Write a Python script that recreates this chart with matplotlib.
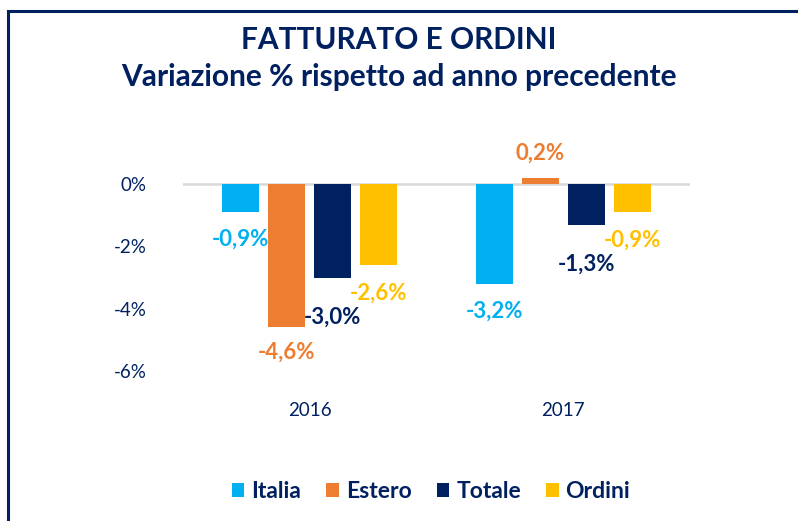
import matplotlib
matplotlib.use("Agg")
import matplotlib.pyplot as plt
import matplotlib.patches as mpatches
import numpy as np

years = ["2016", "2017"]
series = ["Italia", "Estero", "Totale", "Ordini"]
italia = [-0.9, -3.2]
estero = [-4.6, 0.2]
totale = [-3.0, -1.3]
ordini = [-2.6, -0.9]
yticks = [0, -2, -4, -6]

colors = ["#00B0F0", "#ED7D31", "#002060", "#FFC000"]
navy = "#002060"

plt.rcParams["font.family"] = ["Lato", "DejaVu Sans"]

fig = plt.figure(figsize=(7.98, 5.21), dpi=100)
ax = fig.add_axes([0.2293, 0.2639, 0.6354, 0.4428])

x = np.arange(len(years))
width = 0.146
step = 0.181
# Totale labels sit a bit further from the bar
label_off = {"Italia": 27, "Estero": 25, "Totale": 40, "Ordini": 28}

for i, (name, vals) in enumerate(zip(series, [italia, estero, totale, ordini])):
    xpos = x + (i - 1.5) * step
    ax.bar(xpos, vals, width=width, color=colors[i], label=name, zorder=2)
    for xp, v in zip(xpos, vals):
        off = label_off[name] if v < 0 else -label_off[name]
        ax.annotate(f"{v:.1f}%".replace(".", ","), (xp, v),
                    xytext=(0, -off), textcoords="offset pixels",
                    ha="center", va="center", fontsize=16,
                    fontweight="bold", color=colors[i])

ax.axhline(0, color="#D9D9D9", lw=1.8, zorder=1)
ax.set_xlim(-0.5, 1.5)
ax.set_ylim(-6.4, 1)
ax.set_xticks(x)
ax.set_xticklabels(years)
ax.set_yticks(yticks)
ax.set_yticklabels([f"{t}%" for t in yticks])
ax.tick_params(axis="x", length=0, pad=13, labelsize=13.5, labelcolor=navy)
ax.tick_params(axis="y", length=0, pad=26, labelsize=13.5, labelcolor=navy)
for s in ax.spines.values():
    s.set_visible(False)

fig.text(0.5, 1 - 40 / 521, "FATTURATO E ORDINI", ha="center", va="center",
         fontsize=21.5, fontweight="bold", color=navy)
fig.text(0.5, 1 - 77 / 521, "Variazione % rispetto ad anno precedente",
         ha="center", va="center", fontsize=21.5, fontweight="bold", color=navy)

# frame (only top and left edges are visible in the crop)
fig.add_artist(mpatches.Rectangle((8 / 798, -0.2), 1.2, 1.2 - 11 / 521,
                                  transform=fig.transFigure, fill=False,
                                  edgecolor=navy, lw=2.2, clip_on=False))

handles, labels = ax.get_legend_handles_labels()
leg = fig.legend(handles, labels, loc="center", bbox_to_anchor=(431 / 798, 1 - 492 / 521),
                 ncol=4, frameon=False, handlelength=0.55, handleheight=0.55,
                 handletextpad=0.3, columnspacing=1.1, fontsize=16.5)
for t in leg.get_texts():
    t.set_color(navy)
    t.set_fontweight("bold")

fig.savefig("out.png", dpi=100)
